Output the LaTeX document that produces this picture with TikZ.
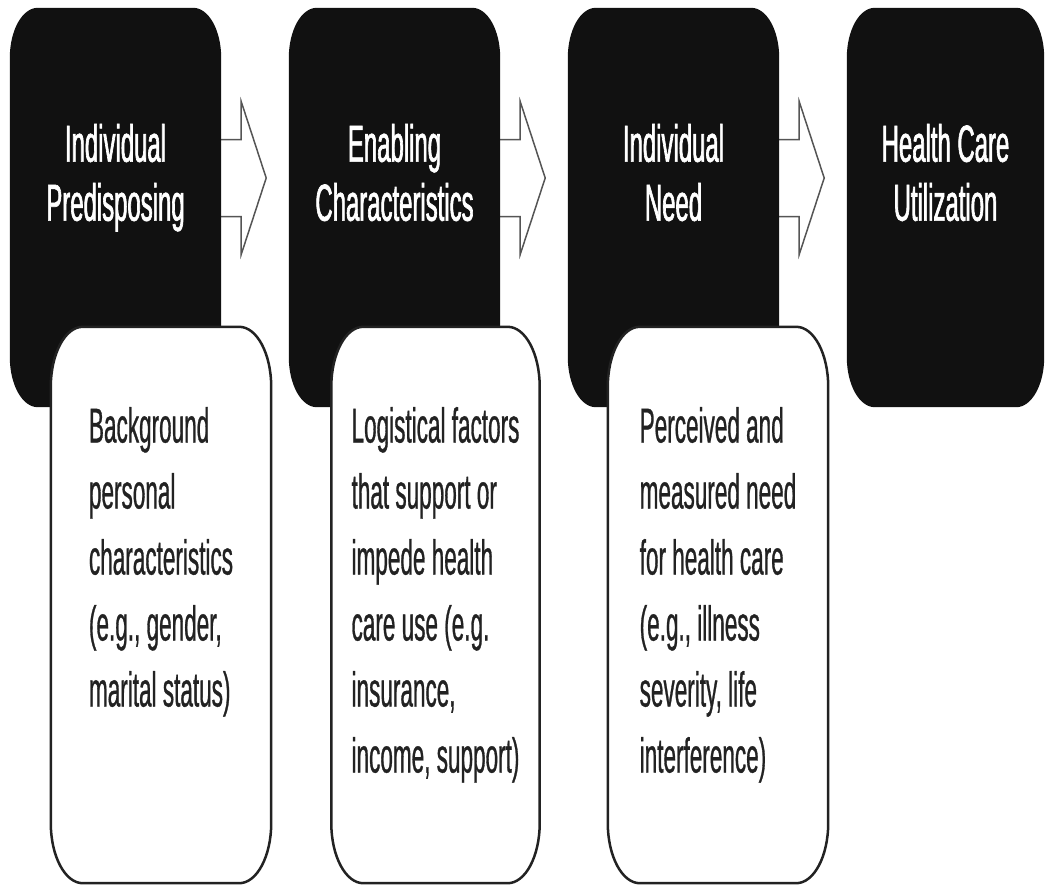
\documentclass[tikz,border=0pt]{standalone}
\usepackage{fontspec}
\newfontfamily\titlefont{Liberation Sans}[FakeStretch=0.46,FakeBold=1.2]
\newfontfamily\notefont{Liberation Sans}[FakeStretch=0.46,FakeBold=0.6]
\usetikzlibrary{calc}

\pgfdeclarelayer{arrowlayer}
\pgfdeclarelayer{blacklayer}
\pgfdeclarelayer{whitelayer}
\pgfsetlayers{arrowlayer,blacklayer,whitelayer,main}

\definecolor{boxblack}{HTML}{111111}
\definecolor{textgray}{HTML}{222222}
\definecolor{arrowgray}{HTML}{555555}

\newcommand{\roundbox}[4]{%
  \path[#1] ([xshift=#3]#2.north west) -- ([xshift=-#3]#2.north east)
    arc[start angle=90,end angle=0,x radius=#3,y radius=#4]
    -- ([yshift=#4]#2.south east)
    arc[start angle=0,end angle=-90,x radius=#3,y radius=#4]
    -- ([xshift=#3]#2.south west)
    arc[start angle=270,end angle=180,x radius=#3,y radius=#4]
    -- ([yshift=-#4]#2.north west)
    arc[start angle=180,end angle=90,x radius=#3,y radius=#4]
    -- cycle;}

\newcommand{\flowarrow}[1]{%
  \path[flowarrow] ($(#1.east)+(-12,68)$) -- ++(32,0) -- ++(0,38)
    -- ++(25,-76.5) -- ++(-25,-76.5) -- ++(0,38) -- ++(-32,0);}

\tikzset{
  stagebox/.style={rectangle, inner sep=0pt, minimum width=211pt, minimum height=399pt},
  notebox/.style={rectangle, inner sep=0pt, minimum width=216pt, minimum height=556pt},
  title/.style={anchor=north, inner sep=0pt, align=center, text=white,
    font=\titlefont\fontsize{52}{59}\selectfont},
  note/.style={anchor=north, inner sep=0pt, align=left, text=textgray,
    font=\notefont\fontsize{49}{66}\selectfont},
  blackfill/.style={fill=boxblack},
  whitefill/.style={fill=white, draw=textgray, line width=2.5pt},
  flowarrow/.style={fill=white, draw=arrowgray, line width=1.5pt, line join=miter}
}

\begin{document}
\begin{tikzpicture}[x=1pt,y=1pt]
  \useasboundingbox (0,0) rectangle (1046,-886);

  \node[stagebox] (s1) at (115.5,-207.5) {};
  \node[stagebox] (s2) at (394.5,-207.5) {};
  \node[stagebox] (s3) at (673.5,-207.5) {};
  \node[stagebox, minimum width=197pt] (s4) at (945.5,-207.5) {};
  \node[notebox, minimum width=220pt] (w1) at (161,-605) {};
  \node[notebox, minimum width=208pt] (w2) at (435.5,-605) {};
  \node[notebox, minimum width=220pt] (w3) at (718,-605) {};

  \node[title] (t1) at ($(s1.north)+(0,-116)$) {Individual\\Predisposing};
  \node[title] (t2) at ($(s2.north)+(0,-116)$) {Enabling\\Characteristics};
  \node[title] (t3) at ($(s3.north)+(0,-116)$) {Individual\\Need};
  \node[title] (t4) at ($(s4.north)+(0,-116)$) {Health Care\\Utilization};

  \node[note] (n1) at ($(w1.north)+(0,-80)$)
    {Background\\personal\\characteristics\\(e.g., gender,\\marital status)};
  \node[note] (n2) at ($(w2.north)+(0,-80)$)
    {Logistical factors\\that support or\\impede health\\care use (e.g.\\insurance,\\income, support)};
  \node[note] (n3) at ($(w3.north)+(0,-80)$)
    {Perceived and\\measured need\\for health care\\(e.g., illness\\severity, life\\interference)};

  \begin{pgfonlayer}{arrowlayer}
    \foreach \s in {s1,s2,s3} \flowarrow{\s};
  \end{pgfonlayer}
  \begin{pgfonlayer}{blacklayer}
    \foreach \s in {s1,s2,s3,s4} \roundbox{blackfill}{\s}{28pt}{50pt};
  \end{pgfonlayer}
  \begin{pgfonlayer}{whitelayer}
    \foreach \w in {w1,w2,w3} \roundbox{whitefill}{\w}{32pt}{60pt};
  \end{pgfonlayer}
\end{tikzpicture}
\end{document}
